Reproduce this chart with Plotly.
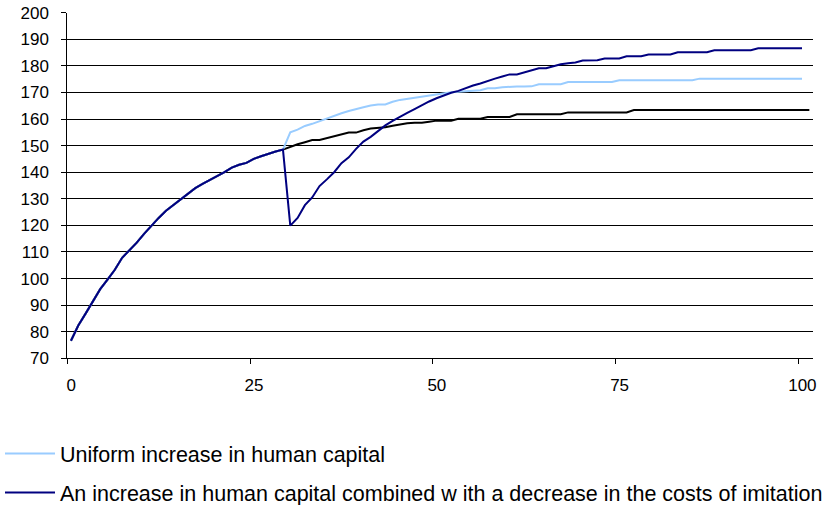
import plotly.graph_objects as go

# Common path (periods 0..29), shared by all three scenarios
common = [76.6, 82.3, 86.8, 91.5, 96.0, 99.6, 103.3, 107.8, 110.5, 113.5,
          116.8, 120.0, 122.8, 125.5, 127.6, 129.8, 132.0, 134.0, 135.6, 137.0,
          138.5, 140.0, 141.7, 142.8, 143.5, 145.0, 146.0, 147.0, 147.8, 148.5]

# Baseline (black), periods 30..101
baseline_tail = [149.6, 150.5, 151.3, 152.1, 152.1, 152.8, 153.6, 154.4, 154.9, 154.9,
                 155.8, 156.4, 156.7, 156.9, 157.5, 158.0, 158.4, 158.6, 158.6, 159.0,
                 159.4, 159.4, 159.4, 160.1, 160.1, 160.1, 160.1, 160.8, 160.8, 160.8,
                 160.8, 161.8, 161.8, 161.8, 161.8, 161.8, 161.8, 161.8, 162.5, 162.5,
                 162.5, 162.5, 162.5, 162.5, 162.5, 162.5, 162.5, 163.4, 163.4, 163.4,
                 163.4, 163.4, 163.4, 163.4, 163.4, 163.4, 163.4, 163.4, 163.4, 163.4,
                 163.4, 163.4, 163.4, 163.4, 163.4, 163.4, 163.4, 163.4, 163.4, 163.4,
                 163.4, 163.4]

# Uniform increase in human capital (light blue), periods 30..100
uniform_tail = [155.0, 156.0, 157.4, 158.2, 159.2, 160.4, 161.4, 162.2, 163.0, 163.6,
                164.4, 165.1, 165.5, 165.5, 166.5, 167.2, 167.6, 168.1, 168.4, 168.8,
                169.4, 169.8, 170.1, 170.3, 170.5, 170.5, 170.8, 171.6, 171.6, 172.0,
                172.2, 172.2, 172.2, 172.3, 173.1, 173.1, 173.1, 173.1, 173.9, 173.9,
                173.9, 173.9, 173.9, 173.9, 173.9, 174.6, 174.6, 174.6, 174.6, 174.6,
                174.6, 174.6, 174.6, 174.6, 174.6, 174.6, 175.2, 175.2, 175.2, 175.2,
                175.2, 175.2, 175.2, 175.2, 175.2, 175.2, 175.2, 175.2, 175.2, 175.2,
                175.2]

# Human capital + lower imitation costs (dark blue), periods 30..100
combined_tail = [119.9, 122.8, 127.6, 130.5, 134.8, 137.3, 140.0, 143.4, 145.6, 148.8,
                 151.5, 153.3, 155.5, 157.6, 159.3, 160.9, 162.3, 163.7, 165.2, 166.6,
                 167.8, 168.9, 169.9, 170.6, 171.7, 172.6, 173.4, 174.4, 175.2, 176.0,
                 176.8, 176.8, 177.6, 178.4, 179.1, 179.1, 179.9, 180.6, 181.0, 181.3,
                 182.0, 182.1, 182.1, 182.8, 182.8, 182.8, 183.6, 183.6, 183.6, 184.3,
                 184.3, 184.3, 184.3, 185.1, 185.1, 185.1, 185.1, 185.1, 185.9, 185.9,
                 185.9, 185.9, 185.9, 185.9, 186.6, 186.6, 186.6, 186.6, 186.6, 186.6,
                 186.6]

baseline = common + baseline_tail
uniform = common + uniform_tail
combined = common + combined_tail

x_tick_vals = [0, 25, 50, 75, 100]
x_tick_labels = ["0", "25", "50", "75", "100"]
y_tick_vals = list(range(70, 201, 10))

FONT = "Arial, Liberation Sans, sans-serif"
W, H = 831, 505

fig = go.Figure()
fig.add_trace(go.Scatter(x=list(range(len(baseline))), y=baseline, mode="lines",
                         line=dict(color="#000000", width=2), showlegend=False))
fig.add_trace(go.Scatter(x=list(range(len(uniform))), y=uniform, mode="lines",
                         name="Uniform increase in human capital", legendgroup="a",
                         line=dict(color="#99CCFF", width=2)))
fig.add_trace(go.Scatter(x=list(range(len(combined))), y=combined, mode="lines",
                         name="An increase in human capital combined w ith a decrease in the costs of imitation",
                         legendgroup="b",
                         line=dict(color="#000080", width=2)))

fig.update_layout(
    width=W, height=H,
    margin=dict(l=0, r=0, t=0, b=0, autoexpand=False),
    paper_bgcolor="white", plot_bgcolor="white",
    font=dict(family=FONT, color="#000000", size=17),
    xaxis=dict(domain=[67.3 / W, 813 / W], automargin=False,
               range=[-0.5, 101.5], tickvals=[v - 0.5 for v in x_tick_vals],
               ticktext=x_tick_labels, ticklabelshift=4,
               showgrid=False, zeroline=False, showline=True, linecolor="#000000",
               linewidth=1, ticks="outside", ticklen=5, tickcolor="#000000",
               ticklabelstandoff=6, tickfont=dict(size=17)),
    yaxis=dict(domain=[1 - 358.3 / H, 1 - 12.7 / H], automargin=False,
               range=[70, 200], tickvals=y_tick_vals, showgrid=True,
               gridcolor="#000000", gridwidth=1, zeroline=False, showline=True,
               linecolor="#000000", linewidth=1, ticks="outside", ticklen=5,
               tickcolor="#000000", ticklabelstandoff=9, tickfont=dict(size=17)),
    legend=dict(x=0, xanchor="left", y=1 - 433 / H, yanchor="top",
                font=dict(size=21.5, family=FONT), itemwidth=50, maxheight=600,
                tracegroupgap=8, traceorder="grouped", bgcolor="rgba(0,0,0,0)"),
)

fig.write_html("out.html")
